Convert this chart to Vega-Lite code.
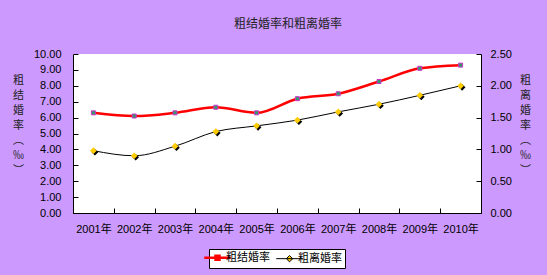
{
  "$schema": "https://vega.github.io/schema/vega-lite/v6.json",
  "width": 408,
  "height": 159,
  "autosize": "none",
  "padding": {"left": 73, "top": 54, "right": 66, "bottom": 62},
  "background": "#CC99FF",
  "title": {
    "text": "粗结婚率和粗离婚率",
    "font": "Noto Sans CJK SC",
    "fontSize": 12,
    "fontWeight": "normal",
    "color": "#222222",
    "anchor": "middle",
    "baseline": "middle",
    "dx": 11,
    "offset": 12
  },
  "config": {
    "view": {"fill": "white", "stroke": null},
    "font": "Liberation Sans, Arial, Noto Sans CJK SC",
    "axis": {
      "domainColor": "black",
      "domainWidth": 1,
      "tickColor": "black",
      "tickWidth": 1,
      "tickSize": -5,
      "labelColor": "black",
      "labelFont": "Liberation Sans, Arial, Noto Sans CJK SC",
      "labelFontSize": 11,
      "grid": false,
      "titleFont": "Noto Sans CJK SC",
      "titleFontSize": 11,
      "titleFontWeight": "normal",
      "titleColor": "#222222"
    },
    "legend": {
      "labelFont": "Noto Sans CJK SC",
      "labelFontSize": 11,
      "labelColor": "black"
    }
  },
  "data": {
    "values": [
      {"year": "2001年", "series": "粗结婚率", "value": 6.30},
      {"year": "2002年", "series": "粗结婚率", "value": 6.10},
      {"year": "2003年", "series": "粗结婚率", "value": 6.30},
      {"year": "2004年", "series": "粗结婚率", "value": 6.65},
      {"year": "2005年", "series": "粗结婚率", "value": 6.30},
      {"year": "2006年", "series": "粗结婚率", "value": 7.19},
      {"year": "2007年", "series": "粗结婚率", "value": 7.50},
      {"year": "2008年", "series": "粗结婚率", "value": 8.27},
      {"year": "2009年", "series": "粗结婚率", "value": 9.10},
      {"year": "2010年", "series": "粗结婚率", "value": 9.30},
      {"year": "2001年", "series": "粗离婚率", "value": 0.98},
      {"year": "2002年", "series": "粗离婚率", "value": 0.90},
      {"year": "2003年", "series": "粗离婚率", "value": 1.05},
      {"year": "2004年", "series": "粗离婚率", "value": 1.28},
      {"year": "2005年", "series": "粗离婚率", "value": 1.37},
      {"year": "2006年", "series": "粗离婚率", "value": 1.46},
      {"year": "2007年", "series": "粗离婚率", "value": 1.59},
      {"year": "2008年", "series": "粗离婚率", "value": 1.71},
      {"year": "2009年", "series": "粗离婚率", "value": 1.85},
      {"year": "2010年", "series": "粗离婚率", "value": 2.00}
    ]
  },
  "encoding": {
    "x": {
      "field": "year",
      "type": "ordinal",
      "scale": {"type": "band", "paddingInner": 0, "paddingOuter": 0},
      "axis": {
        "title": null,
        "labelAngle": 0,
        "labelPadding": 15,
        "tickBand": "extent",
        "labelFont": "Liberation Sans, Arial, Noto Sans CJK SC"
      }
    }
  },
  "layer": [
    {
      "transform": [{"filter": "datum.series === '粗结婚率'"}],
      "encoding": {
        "y": {
          "field": "value",
          "type": "quantitative",
          "scale": {"domain": [0, 10], "nice": false, "zero": true},
          "axis": {
            "orient": "left",
            "values": [0, 1, 2, 3, 4, 5, 6, 7, 8, 9, 10],
            "format": ".2f",
            "labelPadding": 17,
            "title": ["粗", "结", "婚", "率", "︵", "‰", "︶"],
            "titleAngle": 0,
            "titleAlign": "center",
            "titleBaseline": "middle",
            "titleLineHeight": 15,
            "titleX": -55,
            "titleY": 26
          }
        }
      },
      "layer": [
        {
          "mark": {"type": "line", "interpolate": "monotone", "strokeWidth": 2.5},
          "encoding": {
            "stroke": {
              "field": "series",
              "type": "nominal",
              "scale": {"domain": ["粗结婚率", "粗离婚率"], "range": ["#FF0000", "#000000"]},
              "legend": {
                "title": null,
                "orient": "none",
                "direction": "horizontal",
                "legendX": 136,
                "legendY": 195,
                "padding": 3,
                "strokeColor": "black",
                "fillColor": "white",
                "symbolSize": 700,
                "columnPadding": 4,
                "labelOffset": 3,
                "encode": {
                  "symbols": {
                    "update": {
                      "shape": {"signal": "datum.value === '粗结婚率' ? 'M-1,0H1M-0.15,-0.15H0.15V0.15H-0.15Z' : 'M-1,0H1M0,-0.24L0.24,0L0,0.24L-0.24,0Z'"},
                      "fill": {"signal": "datum.value === '粗结婚率' ? '#339966' : '#FFCC00'"},
                      "stroke": {"signal": "datum.value === '粗结婚率' ? '#FF0000' : '#000000'"},
                      "strokeWidth": {"signal": "datum.value === '粗结婚率' ? 2.5 : 1"},
                      "opacity": {"value": 1}
                    }
                  }
                }
              }
            }
          }
        },
        {
          "mark": {"type": "point", "shape": "square", "filled": true, "fill": "#339966", "stroke": "#CC33CC", "strokeWidth": 1, "size": 16, "opacity": 1}
        }
      ]
    },
    {
      "transform": [{"filter": "datum.series === '粗离婚率'"}],
      "encoding": {
        "y": {
          "field": "value",
          "type": "quantitative",
          "scale": {"domain": [0, 2.5], "nice": false, "zero": true},
          "axis": {
            "orient": "right",
            "values": [0, 0.5, 1, 1.5, 2, 2.5],
            "format": ".2f",
            "labelPadding": 14,
            "title": ["粗", "离", "婚", "率", "︵", "‰", "︶"],
            "titleAngle": 0,
            "titleAlign": "center",
            "titleBaseline": "middle",
            "titleLineHeight": 15,
            "titleX": 44,
            "titleY": 26
          }
        }
      },
      "layer": [
        {
          "mark": {"type": "line", "interpolate": "monotone", "strokeWidth": 1},
          "encoding": {
            "stroke": {"field": "series", "type": "nominal"}
          }
        },
        {
          "mark": {"type": "point", "shape": "diamond", "filled": true, "fill": "#000000", "size": 45, "opacity": 1, "xOffset": 1.5, "yOffset": 1.5}
        },
        {
          "mark": {"type": "point", "shape": "diamond", "filled": true, "fill": "#FFCC00", "size": 45, "opacity": 1}
        }
      ]
    }
  ],
  "resolve": {"scale": {"y": "independent"}}
}
